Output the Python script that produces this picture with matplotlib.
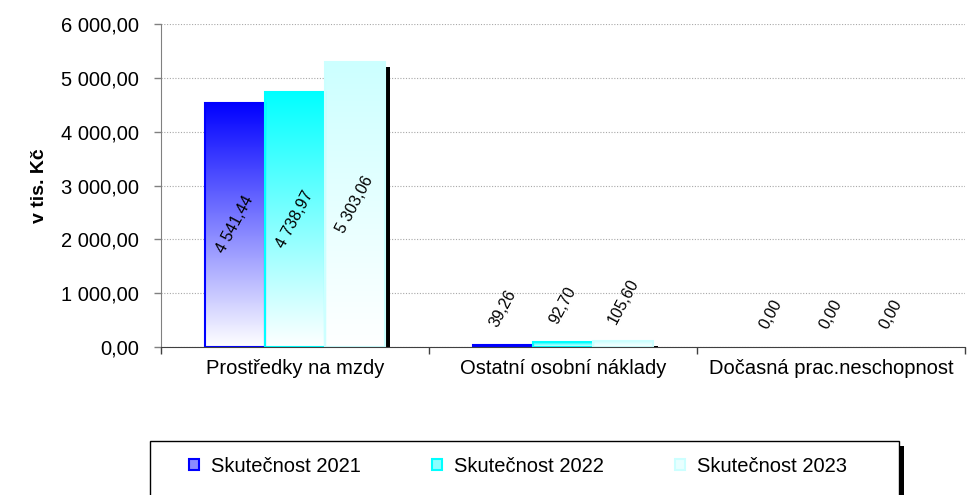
import numpy as np
import matplotlib
matplotlib.use("Agg")
import matplotlib.pyplot as plt
from matplotlib.patches import Rectangle
from matplotlib.colors import LinearSegmentedColormap, to_rgb
from matplotlib import transforms
from matplotlib.ticker import FuncFormatter

plt.rcParams['font.family'] = ['Liberation Sans', 'DejaVu Sans']

categories = ["Prostředky na mzdy", "Ostatní osobní náklady", "Dočasná prac.neschopnost"]
series_names = ["Skutečnost 2021", "Skutečnost 2022", "Skutečnost 2023"]
values_2021 = [4541.44, 39.26, 0.00]
values_2022 = [4738.97, 92.70, 0.00]
values_2023 = [5303.06, 105.60, 0.00]
label_2021 = ["4 541,44", "39,26", "0,00"]
label_2022 = ["4 738,97", "92,70", "0,00"]
label_2023 = ["5 303,06", "105,60", "0,00"]
series_values = [values_2021, values_2022, values_2023]
series_labels = [label_2021, label_2022, label_2023]
colors = ["#0000ff", "#00ffff", "#ccffff"]

W, H = 967, 495
fig = plt.figure(figsize=(W / 100, H / 100), dpi=100)
ax = fig.add_axes([161 / W, 1 - 347 / H, 804 / W, 323 / H])

x = np.arange(len(categories))
bw = 0.225
offsets = [-bw, 0, bw]

shadow_tr = transforms.offset_copy(ax.transData, fig=fig, x=5, y=-5, units='dots')

for i, (vals, labs, col) in enumerate(zip(series_values, series_labels, colors)):
    cmap = LinearSegmentedColormap.from_list(f"g{i}", ["#ffffff", col])
    grad = np.linspace(0, 1, 256).reshape(-1, 1)
    for j, v in enumerate(vals):
        xc = x[j] + offsets[i]
        x0 = xc - bw / 2
        if v > 0:
            sh = Rectangle((x0, 0), bw, v, facecolor='black', edgecolor='none',
                           transform=shadow_tr, zorder=1)
            ax.add_patch(sh)
            rect = Rectangle((x0, 0), bw, v, facecolor='none', edgecolor=col,
                             linewidth=1.5, zorder=3)
            ax.add_patch(rect)
            im = ax.imshow(grad, cmap=cmap, origin='lower', aspect='auto',
                           extent=(x0, x0 + bw, 0, v), zorder=2, interpolation='bilinear')
            im.set_clip_path(rect)
        if v > 1000:
            ax.text(xc, v / 2, labs[j], rotation=62, ha='center', va='center',
                    fontsize=11.5, zorder=5)
        else:
            ax.annotate(labs[j], (xc, v), xytext=(0, 11), textcoords='offset points',
                        rotation=62, ha='center', va='bottom', fontsize=11.5, zorder=5)

ax.set_xlim(-0.5, 2.5)
ax.set_ylim(0, 6000)
ax.set_yticks(np.arange(0, 6001, 1000))
ax.yaxis.set_major_formatter(FuncFormatter(
    lambda v, p: f"{v:,.2f}".replace(',', ' ').replace('.', ',')))
ax.grid(axis='y', color='#a8a8a8', linestyle=(0, (1, 1.5)), linewidth=0.8, zorder=0)
ax.set_axisbelow(True)

ax.set_xticks([-0.5, 0.5, 1.5, 2.5])
ax.set_xticklabels([])
ax.set_xticks(x, categories, minor=True)
ax.tick_params(axis='x', which='minor', length=0, pad=9, labelsize=14.5)
ax.tick_params(axis='x', which='major', length=5, width=1, color='#404040', direction='out')
ax.tick_params(axis='y', length=5, width=1, color='#808080', pad=11, labelsize=14.5)

for s in ['top', 'right']:
    ax.spines[s].set_visible(False)
ax.spines['left'].set_color('#808080')
ax.spines['bottom'].set_color('#404040')
ax.spines['bottom'].set_zorder(4)

ax.set_ylabel("v tis. Kč", fontsize=14, fontweight='bold')
ax.yaxis.set_label_coords((48 - 161) / 804, 0.5)

# Legend frame with shadow
bx0, by0 = 150 / W, -0.05
bw_f, bh_f = 749 / W, (495 - 441) / H + 0.05
fig.patches.append(Rectangle((bx0 + 5 / W, by0 - 5 / H), bw_f, bh_f, transform=fig.transFigure,
                             facecolor='black', edgecolor='none', zorder=0))
fig.patches.append(Rectangle((bx0, by0), bw_f, bh_f, transform=fig.transFigure,
                             facecolor='white', edgecolor='black', linewidth=1, zorder=1))

handles = []
for col in colors:
    c = np.array(to_rgb(col))
    light = 0.45 * c + 0.55
    handles.append(Rectangle((0, 0), 1, 1, facecolor=light, edgecolor=col, linewidth=1.5))
leg = fig.legend(handles, series_names, ncol=3, loc='center',
                 bbox_to_anchor=(518 / W, (495 - 466) / H), frameon=False,
                 fontsize=14.5, handlelength=0.5, handleheight=0.5,
                 handletextpad=0.62, columnspacing=3.5)

fig.savefig("out.png", dpi=100)
